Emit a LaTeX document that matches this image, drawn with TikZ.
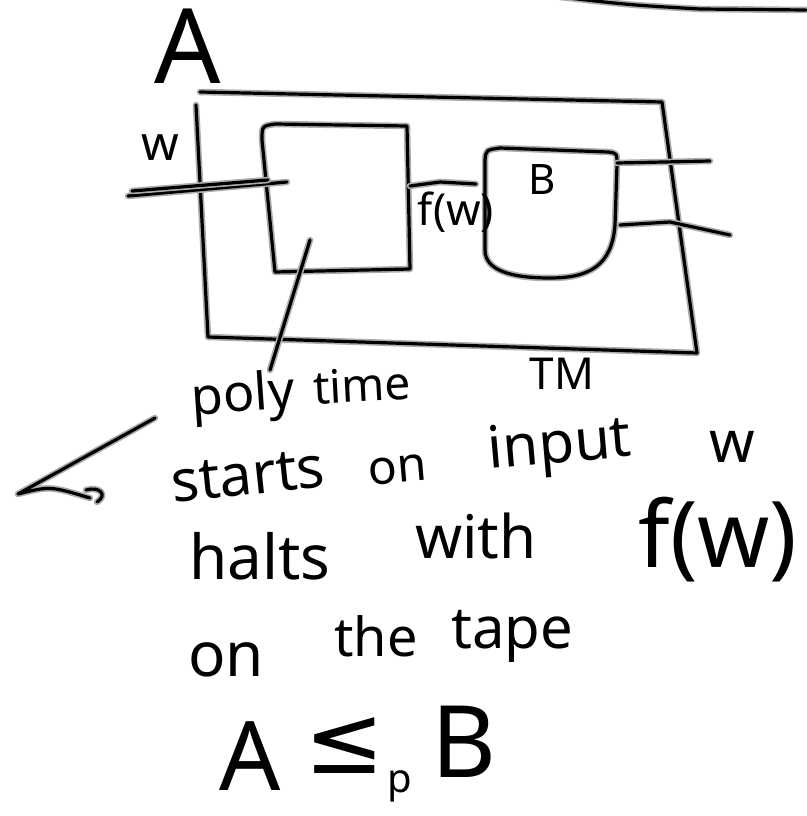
\documentclass[tikz,border=0pt]{standalone}
\usepackage{fontspec}
\setmainfont{Noto Sans}
\newfontfamily\symfont{DejaVu Sans}
\usepackage{tikz}
\usetikzlibrary{positioning}

\tikzset{
    pen/.style={line width=3.2pt, black, line cap=round, line join=round,
        preaction={draw=gray!65, line width=6.5pt, line cap=round, line join=round}},
    hand/.style={inner sep=0pt, font=\fontsize{#1}{#1}\selectfont},
    hand/.default=56,
}

\begin{document}
\begin{tikzpicture}[x=1pt, y=-1pt]
\useasboundingbox (0,0) rectangle (806,816);

% --- stroke at top right ---
\draw[pen] (560,-3) .. controls (630,5) .. (700,9) -- (806,10);

% --- outer box A ---
\node[hand=104] (lblA) at (188,46) {A};
\draw[pen] (200,92) -- (662,102) -- (697,353) -- (208,337) -- (196,105);

% --- reduction TM ---
\draw[pen] (275,272) -- (410,269) -- (407,126) -- (275,124)
    .. controls (262,126) .. (262,140) -- cycle;
\coordinate (tmin) at (310,240);

% input w
\node[hand=48] (lblw) at (160,148) {w};
\draw[pen] (128,196) -- (287,182);
\draw[pen] (132,191) -- (268,180);

% --- decider B ---
\draw[pen] (485,160) .. controls (486,150) .. (500,148) -- (608,152)
    .. controls (617,153) .. (617,165) -- (615,225)
    .. controls (612,265) and (590,278) .. (550,278)
    .. controls (510,278) and (485,270) .. (485,250) -- cycle;
\node[hand=42] (lblB) at (542,180) {B};
\draw[pen] (410,186) -- (440,182) -- (476,184);
\node[hand=44] (lblf) at (456,212) {f(w)};
\draw[pen] (617,163) -- (710,161);
\draw[pen] (620,225) -- (670,222) -- (730,235);

% --- notes ---
\node[hand=52, rotate=4] (poly) at (243,398) {poly};
\node[hand=46, rotate=3] (time) at (362,385) {time};
\node[hand=44] (tm) at (562,374) {TM};
\draw[pen] (270,370) -- (tmin);

\node[hand=58, rotate=6] (starts) at (248,476) {starts};
\node[hand=48, rotate=5] (on) at (398,470) {on};
\node[hand=58, rotate=5] (input) at (560,448) {input};
\node[hand=58] (w) at (732,447) {w};

\node[hand=62] (halts) at (260,556) {halts};
\node[hand=60] (with) at (476,536) {with};
\node[hand=92] (fw) at (718,540) {f(w)};

\node[hand=62] (on2) at (226,660) {on};
\node[hand=54] (the) at (376,636) {the};
\node[hand=58] (tape) at (512,636) {tape};

% --- A <=_p B ---
\node[hand=96] (redA) at (250,756) {A};
\node[hand=96, font=\symfont\fontsize{96}{96}\selectfont] (redle) at (345,746) {≤};
\node[hand=40] (redp) at (400,786) {p};
\node[hand=100] (redB) at (464,742) {B};

% --- arrow on the left ---
\coordinate (ar0) at (155,418);
\coordinate (ar1) at (18,494);
\draw[pen] (ar0) -- (ar1) .. controls (50,486) .. (90,498);
\draw[pen] (86,490) .. controls (100,486) and (108,495) .. (97,502);

\end{tikzpicture}
\end{document}
